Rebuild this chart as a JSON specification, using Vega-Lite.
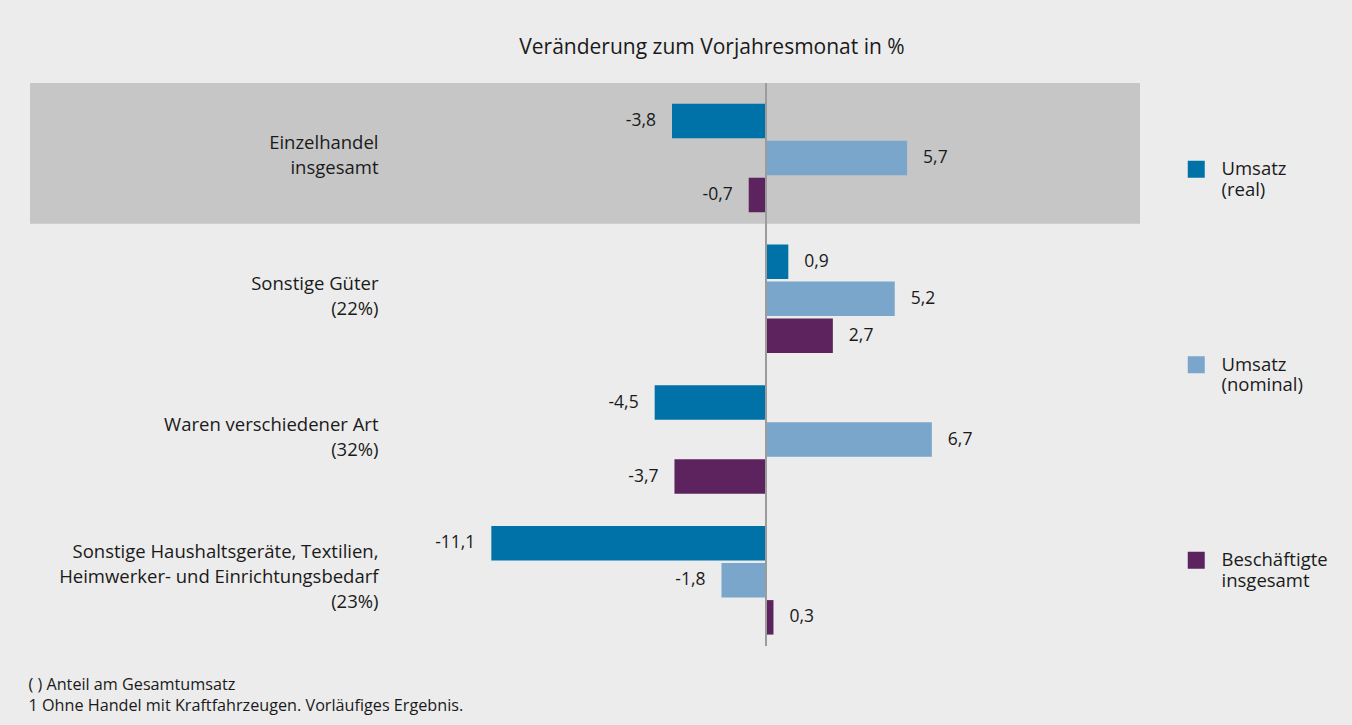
{
  "$schema": "https://vega.github.io/schema/vega-lite/v6.json",
  "width": 1110,
  "height": 563,
  "autosize": {"type": "none"},
  "padding": {"left": 30, "top": 83, "right": 212, "bottom": 79},
  "background": "#ececec",
  "config": {
    "view": {"stroke": null},
    "locale": {"number": {"decimal": ",", "thousands": ".", "grouping": [3], "currency": ["", " €"], "minus": "-"}},
    "font": "Open Sans"
  },
  "title": {
    "text": "Veränderung zum Vorjahresmonat in %",
    "anchor": "middle",
    "frame": "group",
    "dx": 127,
    "offset": 7,
    "baseline": "alphabetic",
    "fontSize": 21,
    "font": "Open Sans",
    "fontWeight": "normal",
    "color": "#1a1a1a"
  },
  "data": {
    "values": [
      {"group": "Einzelhandel|insgesamt", "series": "Umsatz|(real)", "value": -3.8},
      {"group": "Einzelhandel|insgesamt", "series": "Umsatz|(nominal)", "value": 5.7},
      {"group": "Einzelhandel|insgesamt", "series": "Beschäftigte|insgesamt", "value": -0.7},
      {"group": "Sonstige Güter|(22%)", "series": "Umsatz|(real)", "value": 0.9},
      {"group": "Sonstige Güter|(22%)", "series": "Umsatz|(nominal)", "value": 5.2},
      {"group": "Sonstige Güter|(22%)", "series": "Beschäftigte|insgesamt", "value": 2.7},
      {"group": "Waren verschiedener Art|(32%)", "series": "Umsatz|(real)", "value": -4.5},
      {"group": "Waren verschiedener Art|(32%)", "series": "Umsatz|(nominal)", "value": 6.7},
      {"group": "Waren verschiedener Art|(32%)", "series": "Beschäftigte|insgesamt", "value": -3.7},
      {"group": "Sonstige Haushaltsgeräte, Textilien,|Heimwerker- und Einrichtungsbedarf|(23%)", "series": "Umsatz|(real)", "value": -11.1},
      {"group": "Sonstige Haushaltsgeräte, Textilien,|Heimwerker- und Einrichtungsbedarf|(23%)", "series": "Umsatz|(nominal)", "value": -1.8},
      {"group": "Sonstige Haushaltsgeräte, Textilien,|Heimwerker- und Einrichtungsbedarf|(23%)", "series": "Beschäftigte|insgesamt", "value": 0.3}
    ]
  },
  "encoding": {
    "x": {
      "field": "value",
      "type": "quantitative",
      "scale": {"domain": [-29.74, 15.11], "nice": false, "zero": false},
      "axis": {
        "labels": false,
        "ticks": false,
        "domain": false,
        "grid": false,
        "title": ["( ) Anteil am Gesamtumsatz", "1 Ohne Handel mit Kraftfahrzeugen. Vorläufiges Ergebnis."],
        "titleAnchor": "start",
        "titleAlign": "left",
        "titleX": -2,
        "titleBaseline": "top",
        "titlePadding": 30,
        "titleFont": "Open Sans",
        "titleFontSize": 16.2,
        "titleFontWeight": "normal",
        "titleLineHeight": 21,
        "titleColor": "#1a1a1a"
      }
    }
  },
  "layer": [
    {
      "transform": [{"filter": "datum.group === 'Einzelhandel|insgesamt' && datum.series === 'Umsatz|(real)'"}],
      "mark": {"type": "rect", "color": "#c6c6c6"},
      "encoding": {
        "x": null,
        "y": {
          "field": "group",
          "type": "nominal",
          "scale": {
            "domain": ["Einzelhandel|insgesamt", "Sonstige Güter|(22%)", "Waren verschiedener Art|(32%)", "Sonstige Haushaltsgeräte, Textilien,|Heimwerker- und Einrichtungsbedarf|(23%)"],
            "paddingInner": 0,
            "paddingOuter": 0
          },
          "axis": null
        }
      }
    },
    {
      "encoding": {
        "y": {
          "field": "group",
          "type": "nominal",
          "scale": {
            "domain": ["Einzelhandel|insgesamt", "Sonstige Güter|(22%)", "Waren verschiedener Art|(32%)", "Sonstige Haushaltsgeräte, Textilien,|Heimwerker- und Einrichtungsbedarf|(23%)"],
            "paddingInner": 0.229,
            "paddingOuter": 0.114,
            "align": 0.645
          },
          "axis": {
            "title": null,
            "offset": -348,
            "domain": false,
            "ticks": false,
            "tickSize": 0,
            "labelPadding": 0,
            "labelFont": "Open Sans",
            "labelFontSize": 18.5,
            "labelColor": "#1a1a1a",
            "labelLineHeight": 25,
            "labelExpr": "split(datum.label, '|')",
            "labelLimit": 500,
            "labelBaseline": "middle",
            "labelOffset": {"condition": {"test": "indexof(datum.value, 'Heimwerker') >= 0", "value": -28}, "value": -15},
            "grid": false,
            "zindex": 1
          }
        },
        "yOffset": {
          "field": "series",
          "type": "nominal",
          "sort": ["Umsatz|(real)", "Umsatz|(nominal)", "Beschäftigte|insgesamt"],
          "scale": {"paddingInner": 0.0676, "paddingOuter": 0}
        }
      },
      "layer": [
        {
          "mark": {"type": "bar"},
          "encoding": {
            "color": {
              "field": "series",
              "type": "nominal",
              "scale": {
                "domain": ["Umsatz|(real)", "Umsatz|(nominal)", "Beschäftigte|insgesamt"],
                "range": ["#0072a8", "#7aa6cb", "#5d235f"]
              },
              "legend": {
                "orient": "none",
                "legendX": 1157,
                "legendY": 77,
                "title": null,
                "direction": "vertical",
                "symbolType": "square",
                "symbolSize": 289,
                "symbolStrokeWidth": 0,
                "symbolOpacity": 1,
                "labelFont": "Open Sans",
                "labelFontSize": 18.5,
                "labelColor": "#1a1a1a",
                "labelOffset": 16,
                "labelLimit": 300,
                "rowPadding": 155.5,
                "labelExpr": "split(datum.label, '|')",
                "labelLineHeight": 25,
                "labelBaseline": "middle"
              }
            }
          }
        },
        {
          "mark": {"type": "rule", "color": "#9c9c9c", "strokeWidth": 1.5},
          "encoding": {"x": {"datum": 0}, "y": null, "yOffset": null}
        },
        {
          "transform": [{"filter": "datum.value >= 0"}],
          "mark": {"type": "text", "align": "left", "dx": 16, "fontSize": 17.5, "font": "Open Sans", "color": "#1a1a1a", "baseline": "middle"},
          "encoding": {"text": {"field": "value", "type": "quantitative", "format": ".1f"}}
        },
        {
          "transform": [{"filter": "datum.value < 0"}],
          "mark": {"type": "text", "align": "right", "dx": -16, "fontSize": 17.5, "font": "Open Sans", "color": "#1a1a1a", "baseline": "middle"},
          "encoding": {"text": {"field": "value", "type": "quantitative", "format": ".1f"}}
        }
      ]
    }
  ],
  "resolve": {"scale": {"y": "independent"}}
}
